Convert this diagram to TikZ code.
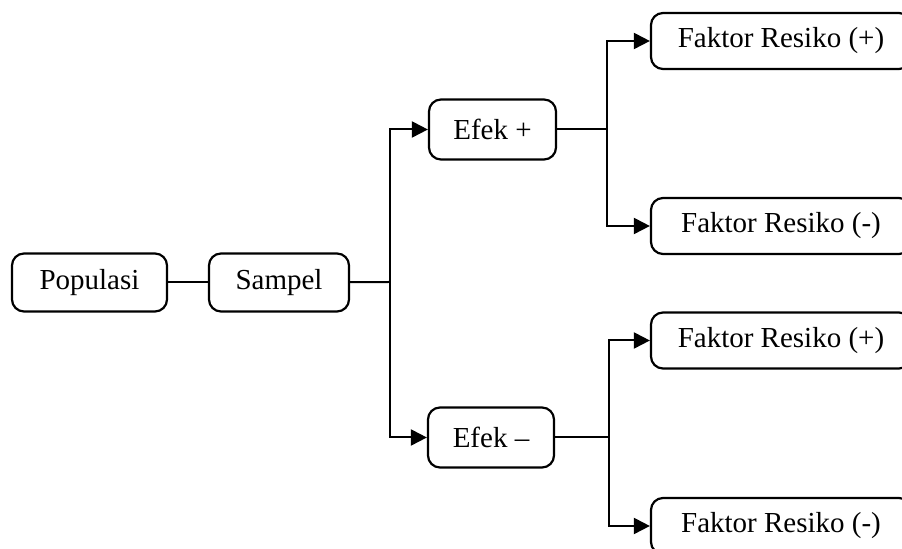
\documentclass[tikz,border=0pt]{standalone}
\usepackage{fontspec}
\setmainfont{Liberation Serif}
\usepackage{tikz}
\usetikzlibrary{arrows.meta,positioning,calc}
\tikzset{%
  box/.style={draw,rounded corners=6pt,align=center,line width=1pt,inner sep=4pt},
  arrow/.style={-{Triangle[length=8pt,width=8pt]}, line width=1pt},
  link/.style={line width=1pt}%
}

\begin{document}
\begin{tikzpicture}[
    x=0.5pt,
    y=-0.5pt,
    font=\fontsize{14.5}{17}\selectfont,
    box/.style={
        draw,
        rounded corners=6pt,
        align=center,
        line width=1.1pt,
        minimum height=29pt,
        inner sep=4pt
    },
    riskbox/.style={
        box,
        minimum width=130pt,
        minimum height=28pt
    }
]
\clip (0,0) rectangle (902,549);

% Nodes
\node[box, minimum width=77.5pt] (populasi) at (89.5,282.5) {Populasi};
\node[box, minimum width=70pt] (sampel) at (279,282.5) {Sampel};
\node[box, minimum width=63.5pt, minimum height=30pt] (efekpos) at (492.5,129.5) {Efek +};
\node[box, minimum width=63pt, minimum height=30pt] (efekneg) at (491,437.5) {Efek --};
\node[riskbox] (posplus) at (781,41) {Faktor Resiko (+)};
\node[riskbox] (posmin) at (781,226) {Faktor Resiko (-)};
\node[riskbox] (negplus) at (781,340.5) {Faktor Resiko (+)};
\node[riskbox] (negmin) at (781,526) {Faktor Resiko (-)};

% Branch points
\coordinate (fork) at (390,282);
\coordinate (forkpos) at (607,129.5);
\coordinate (forkneg) at (609,437.5);

% Arrows
\draw[link] (populasi) -- (sampel);
\draw[link] (sampel) -- (fork);
\draw[arrow] (fork) |- (efekpos);
\draw[arrow] (fork) |- (efekneg);
\draw[link] (efekpos) -- (forkpos);
\draw[arrow] (forkpos) |- (posplus);
\draw[arrow] (forkpos) |- (posmin);
\draw[link] (efekneg) -- (forkneg);
\draw[arrow] (forkneg) |- (negplus);
\draw[arrow] (forkneg) |- (negmin);

\end{tikzpicture}
\end{document}
